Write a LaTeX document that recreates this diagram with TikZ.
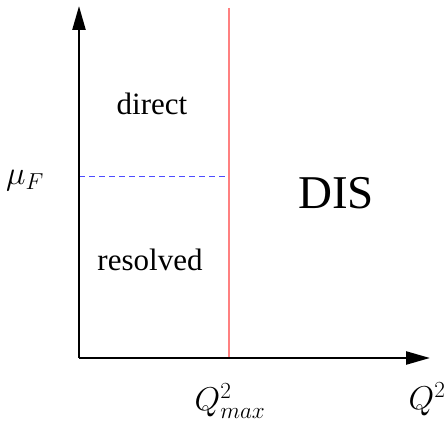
\RequirePackage{fix-cm}
\documentclass[tikz,border=0pt]{standalone}
\usepackage{fontspec}
\setmainfont{Liberation Serif}
\usetikzlibrary{arrows.meta}
\begin{document}
\begin{tikzpicture}[x=1pt,y=-1pt,
  axis/.style={line width=2.4pt,-{Triangle[length=24pt,width=13pt]}},
  lbl/.style={inner sep=0pt,font=\fontsize{31}{34}\selectfont},
  big/.style={inner sep=0pt,font=\fontsize{47}{50}\selectfont},
  mlbl/.style={inner sep=0pt,font=\fontsize{33}{36}\selectfont}]
\useasboundingbox (0,0) rectangle (448,422);
\coordinate (O) at (79,358);
\coordinate (ytop) at (79,6);
\coordinate (xend) at (430,358);
\coordinate (rtop) at (229,8);
\coordinate (rbot) at (229,358);
\coordinate (bl) at (79,176);
\coordinate (br) at (227,176);
\draw[red!50,line width=1.1pt] (rtop) -- (rbot);
\draw[blue!70,dashed,line width=0.9pt,dash pattern=on 6pt off 4pt] (bl) -- (br);
\draw[axis] (O) -- (ytop);
\draw[axis] (O) -- (xend);
\node[lbl] (direct) at (152,104) {direct};
\node[lbl] (resolved) at (150,260) {resolved};
\node[big] (dis) at (336,193) {DIS};
\node[mlbl] (mu) at (25,181) {$\mu_F$};
\node[mlbl] (qmax) at (230,401) {$Q^2_{max}$};
\node[mlbl] (q2) at (427,399) {$Q^2$};
\end{tikzpicture}
\end{document}
